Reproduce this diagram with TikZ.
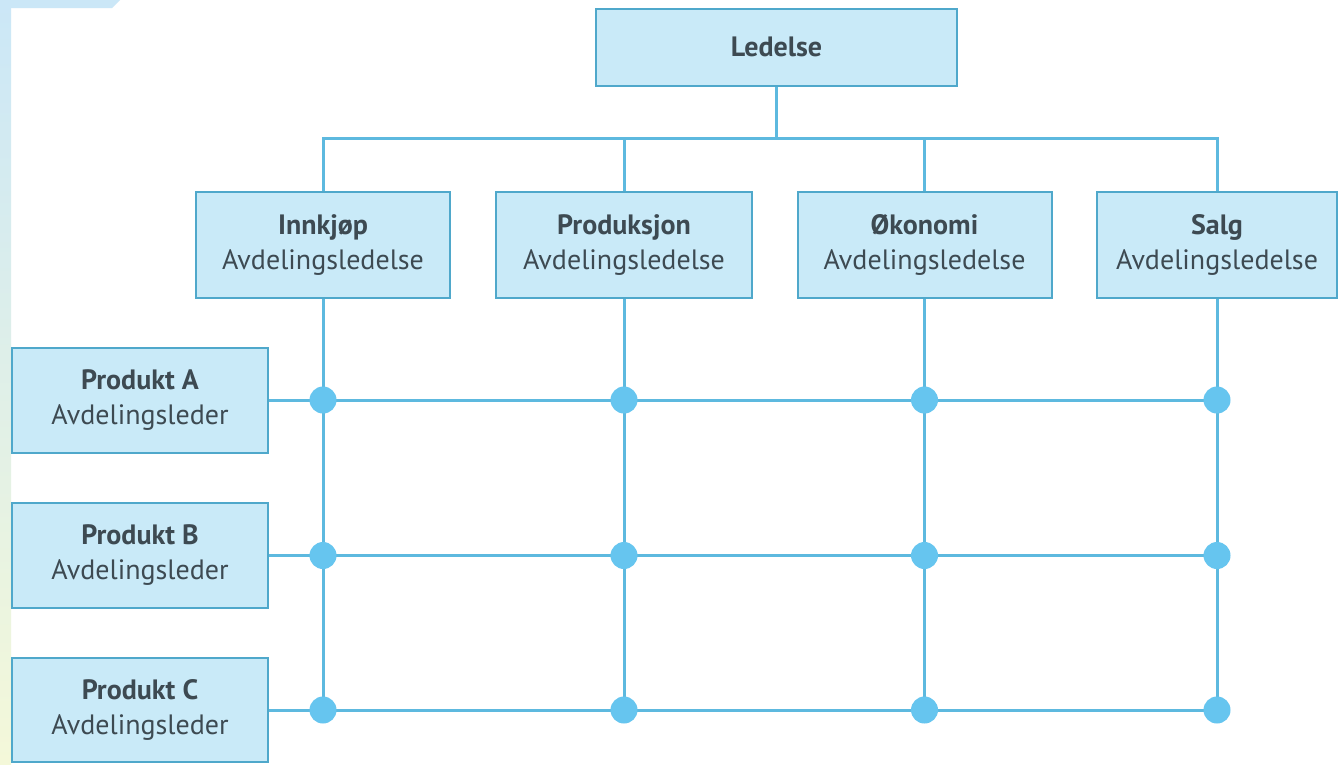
\documentclass[tikz,border=0pt]{standalone}
\usepackage{fontspec}
\setmainfont{PT Sans}
\definecolor{boxfill}{HTML}{C9EAF8}
\definecolor{boxline}{HTML}{4FA8CB}
\definecolor{wire}{HTML}{5DB9DF}
\definecolor{joint}{HTML}{66C5EF}
\definecolor{ink}{HTML}{3D4A52}
\definecolor{edgetop}{HTML}{CBE7F7}
\definecolor{edgebot}{HTML}{F4F8D9}
\tikzset{
  unit/.style={draw=boxline, line width=2pt, fill=boxfill, text=ink,
    align=center, inner sep=0pt, font=\fontsize{28}{35}\selectfont},
  dept/.style={unit, minimum width=254pt, minimum height=106pt},
  prodbox/.style={unit, minimum width=256pt, minimum height=105pt},
  link/.style={draw=wire, line width=3pt},
  knot/.style={fill=joint},
}
\newcommand{\headline}[1]{\textbf{#1}}
\begin{document}
\begin{tikzpicture}[x=1pt, y=-1pt]
\useasboundingbox (0,0) rectangle (1339,764);
\clip (0,0) rectangle (1339,764);
\fill[white] (0,0) rectangle (1339,764);
% tinted margin at the left and top
\shade[top color=edgetop, bottom color=edgebot] (0,0) rectangle (11,764);
\fill[edgetop] (0,0) -- (120,0) -- (112,8) -- (0,8) -- cycle;

% management
\node[unit, minimum width=361pt, minimum height=77pt] (led) at (776.5,47) {\headline{Ledelse}};

% departments
\node[dept] (innk) at (323,245) {\headline{Innkjøp}\\Avdelingsledelse};
\node[dept, minimum width=256pt] (prod) at (624,245) {\headline{Produksjon}\\Avdelingsledelse};
\node[dept] (okon) at (924.5,245) {\headline{Økonomi}\\Avdelingsledelse};
\node[dept, minimum width=240pt] (salg) at (1217,245) {\headline{Salg}\\Avdelingsledelse};

% product lines
\node[prodbox] (pa) at (140,400) {\headline{Produkt A}\\Avdelingsleder};
\node[prodbox] (pb) at (140,555.5) {\headline{Produkt B}\\Avdelingsleder};
\node[prodbox, minimum height=104pt] (pc) at (140,710) {\headline{Produkt C}\\Avdelingsleder};

% bus from management to departments
\coordinate (hub) at (776.5,138);
\draw[link] (led.south) -- (hub);
\draw[link] (innk.north) -- (innk.north |- hub) -- (salg.north |- hub) -- (salg.north);
\draw[link] (prod.north) -- (prod.north |- hub);
\draw[link] (okon.north) -- (okon.north |- hub);

% matrix grid
\foreach \d in {innk,prod,okon,salg}
  \draw[link] (\d.south) -- (\d.south |- pc.east);
\foreach \p in {pa,pb,pc}
  \draw[link] (\p.east) -- (\p.east -| salg.south);
\foreach \d in {innk,prod,okon,salg}
  \foreach \p in {pa,pb,pc}
    \fill[knot] (\d.south |- \p.east) circle (13.5);
\end{tikzpicture}
\end{document}
